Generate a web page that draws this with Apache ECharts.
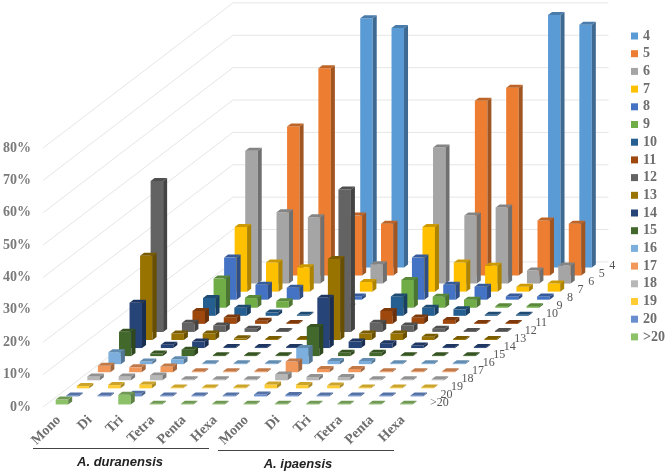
<!DOCTYPE html>
<html><head><meta charset="utf-8">
<style>html,body{margin:0;padding:0;background:#fff}#c{width:666px;height:475px}</style>
<script src="https://cdn.jsdelivr.net/npm/echarts@6/dist/echarts.min.js"></script>
</head><body><div id="c"></div>
<script>
const categories = ['Mono','Di','Tri','Tetra','Penta','Hexa','Mono','Di','Tri','Tetra','Penta','Hexa'];
const rows = ['4','5','6','7','8','9','10','11','12','13','14','15','16','17','18','19','20','>20'];
const gridTicks = [0,10,20,30,40,50,60,70,80];
const s4  = [0,0,0,0,77,74, 0,0,0,0,78,75];
const s5  = [0,0,46,64,18.5,16, 0,0,54,58,17,16];
const s6  = [0,41,22,20.5,0,6, 0,42,21,23.5,4,5.6];
const s7  = [0,20,9,7.5,0,3, 0,20,9,8,1.5,2.5];
const s8  = [0,13,4.6,3.7,0,1, 0,13,4.6,4,1,1];
const s9  = [0,9,3,2,0,.5, 0,8.6,3.4,2.5,.5,.5];
const s10 = [0,5.5,2.5,1,.3,.3, 0,6,2.5,2,.3,.3];
const s11 = [0,4,2,1,.3,.3, 0,4,2,1.2,.3,.3];
const s12 = [46.6,2.8,2,1,.3,.3, 44,2.8,2,1,.3,.3];
const s13 = [26,2,2,.5,.3,.3, 25,2,2,1,.3,.3];
const s14 = [14,1,2,.3,.3,.3, 15.5,2,1.5,.8,.3,.3];
const s15 = [7.5,.8,2,.3,.3,.3, 9,1,1,.3,.3,.3];
const s16 = [3.7,.8,1.5,.3,.3,.3, 5,1,1,.3,.3,.3];
const s17 = [2,1.5,1.8,.3,.3,.3, 3.3,1,1,.3,.3,.3];
const s18 = [1.2,1.2,1.5,.3,.3,.3, 1.8,1,1,.3,.3,.3];
const s19 = [.7,1,1.2,.3,.3,.3, 1.2,1,.9,.3,.3,.3];
const s20 = [.3,.3,.8,.3,.3,.3, .6,.4,.3,.3,.3,.3];
const sGt20 = [1.5,0,3,.2,.2,.2, .2,.2,.2,.2,.2,.2];
const rowValues = [s4,s5,s6,s7,s8,s9,s10,s11,s12,s13,s14,s15,s16,s17,s18,s19,s20,sGt20];
const colors = ['#5b9bd5','#ed7d31','#a5a5a5','#ffc000','#4472c4','#70ad47','#255e91','#9e480e','#636363','#997300','#264478','#43682b','#7cafdd','#f1975a','#b7b7b7','#ffcd33','#698ed0','#8cc168'];

// Oblique projection: screen offset of one depth row, and of a bar's own depth
const ROW_DX = 10.55, ROW_DY = -8.06, BAR_W = 12.5, BAR_DX = 4, BAR_DY = -3;
const SERIF = '"Liberation Serif","Times New Roman",serif';
const shade = (hex, f) => {
  const n = parseInt(hex.slice(1), 16);
  return 'rgb(' + [n >> 16, (n >> 8) & 255, n & 255].map(c => Math.round(c * f)).join(',') + ')';
};
const depthOf = r => rows.length - 1 - r;  // row 0 ('4') is at the back

const barSeries = rows.map((name, r) => ({
  type: 'custom', name, xAxisIndex: 1, yAxisIndex: 0, clip: false,
  itemStyle: { color: colors[r] },
  data: rowValues[r].map((v, k) => [k + 0.5, v]),
  renderItem(params, api) {
    const v = api.value(1);
    if (!v) return { type: 'group', children: [] };
    const d = depthOf(r) + 0.5;
    const base = api.coord([api.value(0), 0]);
    const top = api.coord([api.value(0), v]);
    const cx = base[0] + d * ROW_DX, ox = -BAR_W / 2 - BAR_DX / 2, oy = d * ROW_DY - BAR_DY / 2;
    const x0 = cx + ox, x1 = x0 + BAR_W, yb = base[1] + oy, yt = top[1] + oy;
    const poly = (points, fill) => ({ type: 'polygon', shape: { points }, style: { fill } });
    return { type: 'group', children: [
      poly([[x0, yb], [x1, yb], [x1, yt], [x0, yt]], colors[r]),
      poly([[x1, yb], [x1 + BAR_DX, yb + BAR_DY], [x1 + BAR_DX, yt + BAR_DY], [x1, yt]], shade(colors[r], 0.68)),
      poly([[x0, yt], [x1, yt], [x1 + BAR_DX, yt + BAR_DY], [x0 + BAR_DX, yt + BAR_DY]], shade(colors[r], 0.8))
    ] };
  }
}));

const wallSeries = {
  type: 'custom', name: 'walls', xAxisIndex: 1, yAxisIndex: 0, silent: true, clip: false, z: 1,
  data: gridTicks.map(t => [0, t]),
  renderItem(params, api) {
    const a = api.coord([0, api.value(1)]), e = api.coord([categories.length, api.value(1)]);
    const dx = rows.length * ROW_DX, dy = rows.length * ROW_DY;
    return { type: 'polyline',
      shape: { points: [a, [a[0] + dx, a[1] + dy], [e[0] + dx, e[1] + dy]] },
      style: { fill: null, stroke: '#e6e6e6', lineWidth: 1 } };
  }
};

const depthLabelSeries = {
  type: 'custom', name: 'depth', xAxisIndex: 1, yAxisIndex: 0, silent: true, clip: false, z: 3,
  data: rows.map((n, r) => [categories.length, 0, r]),
  renderItem(params, api) {
    const r = api.value(2), p = api.coord([api.value(0), 0]), d = depthOf(r) + 0.5;
    return { type: 'text', x: p[0] + d * ROW_DX + 6, y: p[1] + d * ROW_DY,
      style: { text: rows[r], fill: '#555', font: '12px ' + SERIF, align: 'left', verticalAlign: 'middle' } };
  }
};

const chart = echarts.init(document.getElementById('c'), null, { renderer: 'canvas' });
chart.setOption({
  animation: false,
  backgroundColor: '#fff',
  grid: { left: 43, top: 148, width: 375.6, height: 259, containLabel: false },
  legend: {
    orient: 'vertical', left: 631, top: 29, padding: 0, itemWidth: 7, itemHeight: 7, itemGap: 3.7,
    selectedMode: false, icon: 'rect',
    data: rows,
    textStyle: { fontFamily: SERIF, fontWeight: 'bold', fontSize: 14, color: '#6e6e6e', lineHeight: 14 }
  },
  xAxis: [
    { type: 'category', data: categories, boundaryGap: true, axisLine: { show: false }, axisTick: { show: false },
      axisLabel: { interval: 0, rotate: 45, margin: 11, fontFamily: SERIF, fontWeight: 'bold', fontSize: 14, color: '#6e6e6e' } },
    { type: 'value', min: 0, max: categories.length, show: false }
  ],
  yAxis: { type: 'value', min: 0, max: 80, interval: 10,
    axisLine: { show: false }, axisTick: { show: false }, splitLine: { show: false },
    axisLabel: { formatter: '{value}%', margin: 12, fontFamily: SERIF, fontWeight: 'bold', fontSize: 14, color: '#7a7a7a' } },
  graphic: [
    { type: 'line', shape: { x1: 33, y1: 448.5, x2: 209, y2: 448.5 }, style: { stroke: '#444', lineWidth: 1 } },
    { type: 'line', shape: { x1: 218, y1: 450.5, x2: 394, y2: 450.5 }, style: { stroke: '#444', lineWidth: 1 } },
    { type: 'text', x: 120, y: 462, style: { text: 'A. duranensis', fill: '#222', font: 'italic bold 13px "Liberation Sans",Arial,sans-serif', align: 'center', verticalAlign: 'middle' } },
    { type: 'text', x: 298, y: 464, style: { text: 'A. ipaensis', fill: '#222', font: 'italic bold 13px "Liberation Sans",Arial,sans-serif', align: 'center', verticalAlign: 'middle' } }
  ],
  series: [wallSeries, ...barSeries, depthLabelSeries]
});
</script></body></html>
